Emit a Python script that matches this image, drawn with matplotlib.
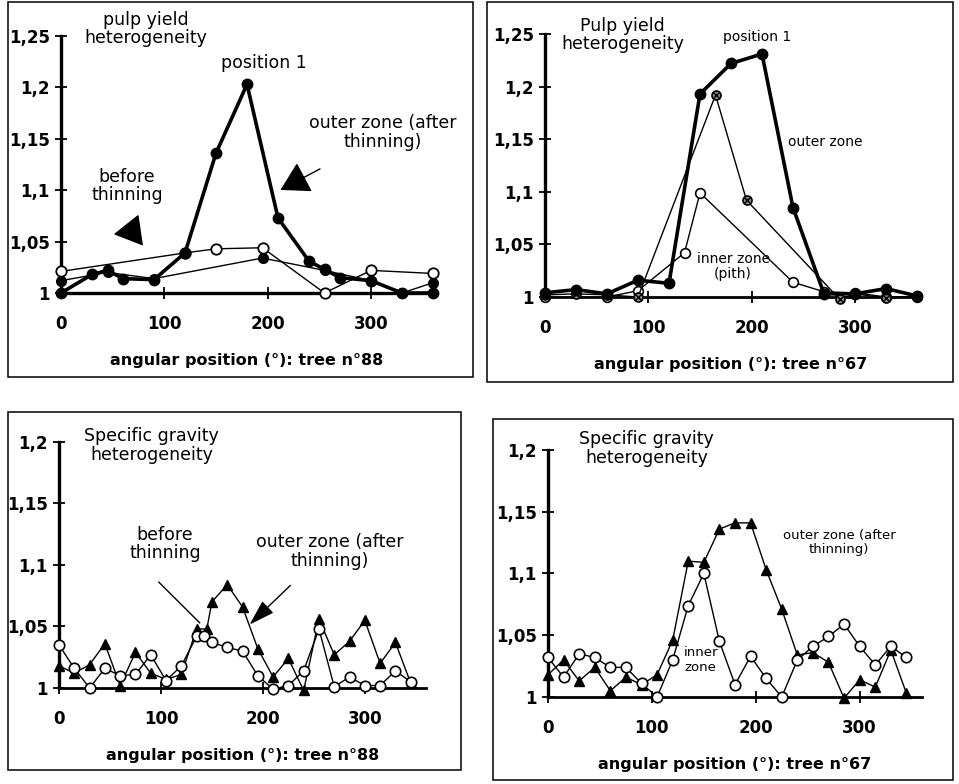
# Four panels: pulp yield and specific gravity heterogeneity vs angular position (trees 88 and 67)

import matplotlib
matplotlib.use("Agg")
import matplotlib.pyplot as plt
from matplotlib.patches import Rectangle

W = 959
H = 784

# ---- data ----
# tree 88, pulp yield
py88_pos1_x = [0, 30, 45, 60, 90, 120, 150, 180, 210, 240, 255, 270, 300, 330, 360]
py88_pos1_y = [1.0, 1.018, 1.022, 1.014, 1.013, 1.039, 1.136, 1.203, 1.073, 1.031, 1.023, 1.015, 1.012, 1.0, 1.0]
py88_thin_x = [0, 45, 90, 195, 255, 300, 330, 360]
py88_thin_y = [1.012, 1.020, 1.014, 1.034, 1.022, 1.012, 1.0, 1.010]
py88_before_x = [0, 120, 150, 195, 255, 300, 360]
py88_before_y = [1.021, 1.039, 1.043, 1.044, 1.0, 1.022, 1.019]

# tree 67, pulp yield
py67_pos1_x = [0, 30, 60, 90, 120, 150, 180, 210, 240, 270, 300, 330, 360]
py67_pos1_y = [1.004, 1.007, 1.003, 1.016, 1.013, 1.193, 1.222, 1.231, 1.085, 1.003, 1.003, 1.008, 1.001]
py67_outer_x = [0, 30, 60, 90, 165, 195, 285, 300, 330, 360]
py67_outer_y = [1.002, 1.003, 1.002, 1.0, 1.192, 1.092, 0.998, 1.003, 0.999, 1.001]
py67_inner_x = [0, 60, 90, 135, 150, 240, 270, 300, 330, 360]
py67_inner_y = [1.0, 1.0, 1.006, 1.042, 1.099, 1.014, 1.005, 1.004, 1.0, 1.0]

# tree 88, specific gravity
sg88_outer_x = [0, 15, 30, 45, 60, 75, 90, 105, 120, 135, 145, 150, 165, 180, 195, 210, 225, 240, 255, 270, 285, 300, 315, 330, 345]
sg88_outer_y = [1.018, 1.012, 1.019, 1.036, 1.002, 1.029, 1.012, 1.007, 1.011, 1.048, 1.048, 1.070, 1.084, 1.066, 1.032,
                1.009, 1.024, 0.998, 1.056, 1.027, 1.038, 1.055, 1.020, 1.037, 1.004]
sg88_before_x = [0, 15, 30, 45, 60, 75, 90, 105, 120, 135, 142, 150, 165, 180, 195, 210, 225, 240, 255, 270, 285, 300, 315, 330, 345]
sg88_before_y = [1.035, 1.016, 1.0, 1.016, 1.010, 1.011, 1.027, 1.006, 1.018, 1.042, 1.042, 1.037, 1.033, 1.030, 1.010,
                 0.999, 1.002, 1.014, 1.048, 1.001, 1.009, 1.002, 1.002, 1.014, 1.005]

# tree 67, specific gravity
sg67_x = [0, 15, 30, 45, 60, 75, 90, 105, 120, 135, 150, 165, 180, 195, 210, 225, 240, 255, 270, 285, 300, 315, 330, 345]
sg67_outer_y = [1.018, 1.030, 1.013, 1.024, 1.005, 1.016, 1.010, 1.018, 1.046, 1.110, 1.109, 1.136, 1.141, 1.141,
                1.103, 1.071, 1.034, 1.036, 1.028, 0.999, 1.014, 1.008, 1.038, 1.003]
sg67_inner_y = [1.032, 1.016, 1.035, 1.032, 1.024, 1.024, 1.011, 1.0, 1.030, 1.074, 1.100, 1.045, 1.010, 1.033,
                1.015, 1.0, 1.030, 1.041, 1.049, 1.059, 1.041, 1.026, 1.041, 1.032]

xticks = [0, 100, 200, 300]
yticks_py = [1, 1.05, 1.1, 1.15, 1.2, 1.25]
ylabels_py = ["1", "1,05", "1,1", "1,15", "1,2", "1,25"]
yticks_sg = [1, 1.05, 1.1, 1.15, 1.2]
ylabels_sg = ["1", "1,05", "1,1", "1,15", "1,2"]

plt.rcParams['font.family'] = ['DejaVu Sans']

fig = plt.figure(figsize=(W / 100, H / 100), dpi=100)

bigHead = dict(arrowstyle="-|>,head_length=0.6,head_width=0.35", mutation_scale=30, lw=1, color="black")
slimHead = dict(arrowstyle="-|>,head_length=0.8,head_width=0.25", mutation_scale=20, lw=1, color="black")


def box(left, top, right, bottom):
    fig.patches.append(Rectangle((left / W, 1 - bottom / H), (right - left) / W, (bottom - top) / H,
                                 transform=fig.transFigure, fill=False, lw=1.1, ec="black"))


def makeAxes(px0, px360, py1, pytop, ytop, yticks, ylabels, xlabel, lwBottom):
    ylo = 0.99
    sy = (py1 - pytop) / (ytop - 1)
    bottomPx = py1 + (1 - ylo) * sy
    topPx = pytop - 0.004 * sy
    ax = fig.add_axes([px0 / W, 1 - bottomPx / H, (px360 - px0) / W, (bottomPx - topPx) / H])
    ax.set_xlim(0, 360)
    ax.set_ylim(ylo, ytop + 0.004)
    ax.patch.set_visible(False)
    for s in ["top", "right"]:
        ax.spines[s].set_visible(False)
    ax.spines["bottom"].set_position(("data", 1.0))
    ax.spines["bottom"].set_bounds(0, 360)
    ax.spines["bottom"].set_linewidth(lwBottom)
    ax.spines["left"].set_bounds(1, ytop)
    ax.spines["left"].set_linewidth(2.4)
    ax.set_xticks(xticks)
    ax.set_yticks(yticks)
    ax.set_yticklabels(ylabels)
    ax.tick_params(axis="x", direction="inout", length=8, width=1.3, pad=12, labelsize=12)
    ax.tick_params(axis="y", direction="inout", length=8, width=1.3, pad=4, labelsize=12)
    for t in ax.get_xticklabels() + ax.get_yticklabels():
        t.set_fontweight("bold")
    ax.set_xlabel(xlabel, fontsize=11.5, fontweight="bold", labelpad=14)
    return ax


# ---------------- panel 1: pulp yield, tree 88 ----------------
box(8, 1.5, 473, 377)
ax1 = makeAxes(61, 433, 293, 36, 1.25, yticks_py, ylabels_py, "angular position (°): tree n°88", 2.4)
ax1.plot(py88_thin_x, py88_thin_y, "-o", color="black", lw=1, ms=7, clip_on=False, zorder=3)
ax1.plot(py88_before_x, py88_before_y, "-o", color="black", mfc="white", mew=1.3, lw=1, ms=7.5, clip_on=False, zorder=4)
ax1.plot(py88_pos1_x, py88_pos1_y, "-o", color="black", lw=2.6, ms=7.5, clip_on=False, zorder=5)
ax1.text(82, 1.257, "pulp yield\nheterogeneity", ha="center", va="center", fontsize=12.5, linespacing=1.0)
ax1.text(196, 1.224, "position 1", ha="center", va="center", fontsize=12.5)
ax1.text(311, 1.156, "outer zone (after\nthinning)", ha="center", va="center", fontsize=12.5, linespacing=1.05)
ax1.text(64, 1.104, "before\nthinning", ha="center", va="center", fontsize=12.5, linespacing=1.05)
ax1.annotate("", xy=(210, 1.099), xytext=(253, 1.122), arrowprops=bigHead)
ax1.annotate("", xy=(81, 1.044), xytext=(62, 1.068), arrowprops=bigHead)

# ---------------- panel 2: pulp yield, tree 67 ----------------
box(487, 1.5, 953, 382)
ax2 = makeAxes(545, 917, 297, 34, 1.25, yticks_py, ylabels_py, "angular position (°): tree n°67", 2.0)
ax2.plot(py67_inner_x, py67_inner_y, "-o", color="black", mfc="white", mew=1.2, lw=1, ms=7, clip_on=False, zorder=3)
ax2.plot(py67_outer_x, py67_outer_y, "-o", color="black", mfc="#8a8a8a", mew=1.2, lw=1, ms=6.5, clip_on=False, zorder=4)
ax2.plot(py67_outer_x, py67_outer_y, "x", color="black", ms=4, mew=1, clip_on=False, zorder=4)
ax2.plot(py67_pos1_x, py67_pos1_y, "-o", color="black", lw=2.6, ms=7.5, clip_on=False, zorder=5)
ax2.text(75, 1.249, "Pulp yield\nheterogeneity", ha="center", va="center", fontsize=12.5, linespacing=1.0)
ax2.text(205, 1.247, "position 1", ha="center", va="center", fontsize=10)
ax2.text(271, 1.147, "outer zone", ha="center", va="center", fontsize=10)
ax2.text(182, 1.029, "inner zone\n(pith)", ha="center", va="center", fontsize=10, linespacing=1.15)

# ---------------- panel 3: specific gravity, tree 88 ----------------
box(8, 412, 461, 770)
ax3 = makeAxes(59, 426, 688, 442, 1.2, yticks_sg, ylabels_sg, "angular position (°): tree n°88", 2.0)
ax3.plot(sg88_outer_x, sg88_outer_y, "-^", color="black", lw=1, ms=7.5, clip_on=False, zorder=3)
ax3.plot(sg88_before_x, sg88_before_y, "-o", color="black", mfc="white", mew=1.2, lw=1, ms=7.5, clip_on=False, zorder=4)
ax3.text(91, 1.197, "Specific gravity\nheterogeneity", ha="center", va="center", fontsize=12.5, linespacing=1.05)
ax3.text(104, 1.117, "before\nthinning", ha="center", va="center", fontsize=12.5, linespacing=1.05)
ax3.text(266, 1.111, "outer zone (after\nthinning)", ha="center", va="center", fontsize=12.5, linespacing=1.05)
ax3.plot([98, 138], [1.086, 1.053], color="black", lw=1)
ax3.annotate("", xy=(185, 1.050), xytext=(229, 1.085), arrowprops=slimHead)

# ---------------- panel 4: specific gravity, tree 67 ----------------
box(493, 419, 953, 780)
ax4 = makeAxes(548, 922, 697, 450, 1.2, yticks_sg, ylabels_sg, "angular position (°): tree n°67", 2.0)
ax4.plot(sg67_x, sg67_outer_y, "-^", color="black", lw=1, ms=7.5, clip_on=False, zorder=3)
ax4.plot(sg67_x, sg67_inner_y, "-o", color="black", mfc="white", mew=1.2, lw=1, ms=7.5, clip_on=False, zorder=4)
ax4.text(95, 1.201, "Specific gravity\nheterogeneity", ha="center", va="center", fontsize=12.5, linespacing=1.05)
ax4.text(280, 1.125, "outer zone (after\nthinning)", ha="center", va="center", fontsize=9.5, linespacing=1.15)
ax4.text(147, 1.030, "inner\nzone", ha="center", va="center", fontsize=9.5, linespacing=1.25)

plt.savefig("out.png", dpi=100)
plt.close()
